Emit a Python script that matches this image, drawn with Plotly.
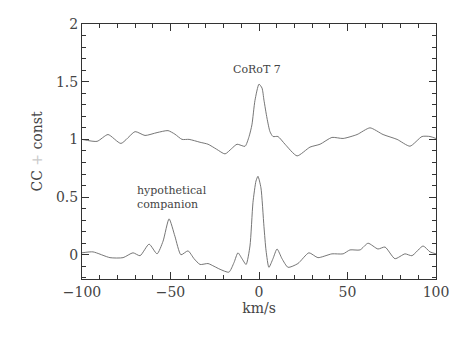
import plotly.graph_objects as go

# CoRoT 7 cross-correlation (shifted by +1)
corot_v = [-100, -91.5, -85.3, -78.0, -70.0, -64.4, -57.6, -51.4, -47.5, -43.5, -39.5,
           -33.3, -28.8, -24.0, -19.2, -15.5, -12.4, -7.9, -5.6, -4.0, -2.3, 0, 1.7,
           2.8, 4.5, 6.2, 7.9, 10.7, 14.7, 21.5, 28.8, 34.5, 41.2, 47.5, 55.4, 62.7,
           70.1, 78.0, 85.3, 92.1, 96.6, 100]
corot_cc = [1.00, 0.983, 1.042, 0.965, 1.067, 1.034, 1.059, 1.076, 1.045, 1.0, 1.0,
            0.975, 0.958, 0.915, 0.874, 0.920, 0.958, 0.940, 1.025, 1.126, 1.336, 1.479,
            1.445, 1.34, 1.185, 1.067, 1.025, 1.025, 0.958, 0.857, 0.933, 0.958, 1.017,
            1.008, 1.042, 1.10, 1.042, 1.0, 0.941, 1.025, 1.025, 1.008]

# hypothetical companion
comp_v = [-100, -93.8, -84.2, -76.8, -71.2, -67.2, -62.1, -57.6, -54.2, -50.8, -47.5,
          -44.1, -40.1, -36.7, -33.3, -28.8, -25.4, -22.0, -17.0, -14.1, -11.9, -9.6,
          -7.3, -5.1, -3.4, -1.7, -0.6, 1.1, 2.8, 4.0, 5.6, 7.9, 10.2, 13.0, 16.4, 22.0,
          28.2, 33.3, 41.2, 47.5, 51.4, 57.1, 61.6, 67.2, 71.2, 76.8, 82.5, 86.4, 92.7,
          96.6, 100]
comp_cc = [0.017, 0.025, -0.025, -0.025, 0.017, -0.008, 0.092, 0.008, 0.118, 0.311, 0.16,
           0.0, 0.034, -0.034, -0.084, -0.076, -0.10, -0.126, -0.151, -0.067, 0.017, -0.034,
           -0.084, 0.076, 0.454, 0.639, 0.68, 0.58, 0.244, 0.034, -0.109, -0.034, 0.05,
           -0.034, -0.109, -0.076, 0.017, -0.025, 0.008, 0.008, 0.042, 0.042, 0.10, 0.05,
           0.067, -0.034, 0.008, -0.008, 0.076, 0.025, 0.008]

FONT = "DejaVu Serif"
INK = "#333333"
TEXT = "#444444"

fig = go.Figure()
for v, cc in [(corot_v, corot_cc), (comp_v, comp_cc)]:
    fig.add_trace(go.Scatter(
        x=v, y=cc, mode="lines",
        line=dict(color="#666666", width=0.9, shape="spline", smoothing=0.6),
        showlegend=False,
    ))

fig.add_annotation(x=-1, y=1.61, text="CoRoT 7", showarrow=False,
                   font=dict(family=FONT, size=11, color=TEXT))
fig.add_annotation(x=-70, y=0.5, text="hypothetical<br>companion", showarrow=False,
                   xanchor="left", align="left",
                   font=dict(family=FONT, size=11, color=TEXT))

axis_common = dict(
    showgrid=False, zeroline=False, showline=True, linecolor=INK, linewidth=1,
    mirror="ticks", ticks="inside", ticklen=7, tickcolor=INK,
    tickfont=dict(family=FONT, size=14, color=TEXT),
    ticklabeloverflow="allow",
)

fig.update_xaxes(
    range=[-100, 100], dtick=50, tickformat="d",
    minor=dict(ticks="inside", dtick=10, ticklen=4, tickcolor=INK),
    title=dict(text="km/s", font=dict(family=FONT, size=14, color=TEXT), standoff=4),
    **axis_common,
)
fig.update_yaxes(
    range=[-0.21, 2], tickvals=[0, 0.5, 1, 1.5, 2], ticktext=["0", "0.5", "1", "1.5", "2"],
    minor=dict(ticks="inside", dtick=0.1, ticklen=4, tickcolor=INK),
    title=dict(text='CC <span style="color:#cccccc">+</span> const',
               font=dict(family=FONT, size=14, color=TEXT), standoff=10),
    **axis_common,
)

# the page body adds an 8px offset, so the figure is drawn 8px smaller
fig.update_layout(
    width=455, height=338,
    margin=dict(l=74, r=27, t=8, b=67),
    plot_bgcolor="white", paper_bgcolor="white",
)

fig.write_html("out.html")
